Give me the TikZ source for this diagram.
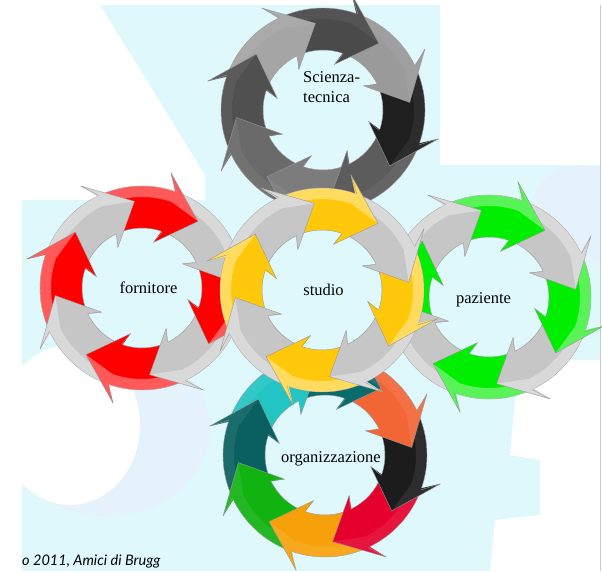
\documentclass[tikz,border=0pt]{standalone}
\usepackage{fontspec}
\setmainfont{Liberation Serif}
\newfontfamily\notefont{Lato}
\definecolor{bgcyan}{HTML}{DFF8FC}
\definecolor{bgblue}{HTML}{E6F2FB}
\definecolor{redA}{HTML}{FF0000}
\definecolor{grayA}{HTML}{C6C6C6}
\definecolor{yellowA}{HTML}{FFC80A}
\definecolor{greenA}{HTML}{00EE00}
\definecolor{sciA}{HTML}{4A4A4A}
\definecolor{sciB}{HTML}{9A9A9A}
\definecolor{sciC}{HTML}{1F1F1F}
\definecolor{sciD}{HTML}{5C5C5C}
\definecolor{sciE}{HTML}{7C7C7C}
\definecolor{sciF}{HTML}{6A6A6A}
\definecolor{sciG}{HTML}{505050}
\definecolor{sciH}{HTML}{A5A5A5}
\definecolor{orgA}{HTML}{0B6B6B}
\definecolor{orgB}{HTML}{F26535}
\definecolor{orgC}{HTML}{1C1C1C}
\definecolor{orgD}{HTML}{E6002E}
\definecolor{orgE}{HTML}{F7A10A}
\definecolor{orgF}{HTML}{11B311}
\definecolor{orgG}{HTML}{0A6060}
\definecolor{orgH}{HTML}{22C4C4}
\tikzset{
  x=1pt, y=1pt,
  piece/.style={draw=black!40, line width=0.4pt, line join=round},
  tag/.style={font=\fontsize{16.5}{20}\selectfont, inner sep=0pt},
}

% ring of eight arrows turning clockwise: #1 centre, #2 shine, #3 angle/colour
\newcommand{\cyclering}[3]{%
  \begin{scope}[shift={(#1)}]
    % bodies
    \foreach \b/\col in {#3} {
      \filldraw[piece, fill=\col]
        ({\b+45}:102) arc[start angle={\b+45}, end angle=\b, radius=102]
        -- (\b:60) arc[start angle=\b, end angle={\b+45}, radius=60] -- cycle;
      \fill[white, fill opacity=#2]
        ({\b+45}:102) arc[start angle={\b+45}, end angle=\b, radius=102]
        -- (\b:91) arc[start angle=\b, end angle={\b+45}, radius=91] -- cycle;
    }
    % heads on top of the next tail
    \foreach \b/\col in {#3} {
      \fill[\col] ({\b+1}:102) -- ({\b+6}:119) -- ({\b-20}:87) -- ({\b+6}:47)
        -- ({\b+1}:60) -- cycle;
      \fill[white, fill opacity=#2] ({\b+1}:91) -- ({\b+1}:102) -- ({\b+6}:119)
        -- ({\b-20}:87) -- cycle;
      \draw[piece] (\b:102) -- ({\b+6}:119) -- ({\b-20}:87) -- ({\b+6}:47)
        -- (\b:60);
    }
  \end{scope}
}

\begin{document}
\begin{tikzpicture}
  \useasboundingbox (0,0) rectangle (602,571);
  % background
  \fill[white] (0,0) rectangle (602,571);
  \begin{scope}
    \clip (22,0) rectangle (600,566);
    \fill[bgcyan] (22,0) rectangle (600,566);
    \fill[white] (22,566) -- (100,566) -- (205,396) -- (205,371) -- (22,371) -- cycle;
    \fill[white] (440,406) rectangle (600,566);
    \fill[bgblue] (580,356) circle[radius=50];
    \fill[white] (520,211) -- (600,211) -- (600,0) -- (490,0) -- (495,51)
      -- (540,56) -- (540,111) -- (510,116) -- (515,170) -- cycle;
    \fill[bgblue] (105,141) ellipse[x radius=105, y radius=86];
    \fill[white] (70,146) ellipse[x radius=70, y radius=80];
  \end{scope}
  \draw[black!20] (600.5,0) -- (600.5,566);

  \coordinate (sci) at (323,461);
  \coordinate (org) at (325,116);
  \coordinate (forn) at (142,283);
  \coordinate (paz) at (489,274);
  \coordinate (stud) at (322,281);

  \cyclering{sci}{0.06}{70/sciA, 25/sciB, -20/sciC, -65/sciD, -110/sciE,
    -155/sciF, 160/sciG, 115/sciH}
  \cyclering{org}{0.08}{70/orgA, 25/orgB, -20/orgC, -65/orgD, -110/orgE,
    -155/orgF, 160/orgG, 115/orgH}
  \cyclering{forn}{0.35}{70/redA, 25/grayA, -20/redA, -65/grayA, -110/redA,
    -155/grayA, 160/redA, 115/grayA}
  \cyclering{paz}{0.35}{70/greenA, 25/grayA, -20/greenA, -65/grayA, -110/greenA,
    -155/grayA, 160/greenA, 115/grayA}
  \cyclering{stud}{0.35}{70/yellowA, 25/grayA, -20/yellowA, -65/grayA, -110/yellowA,
    -155/grayA, 160/yellowA, 115/grayA}

  \node[tag, anchor=base west, align=left] (sci-label) at (303,468)
    {Scienza-\\tecnica};
  \node[tag, anchor=base] (forn-label) at (148.5,277) {fornitore};
  \node[tag, anchor=base] (stud-label) at (323.5,276) {studio};
  \node[tag, anchor=base] (paz-label) at (483.5,268) {paziente};
  \node[tag, anchor=base] (org-label) at (331,109) {organizzazione};
  \node[anchor=base west, inner sep=0pt, font=\notefont\itshape\fontsize{14.5}{16}\selectfont]
    (credit) at (22,6) {o 2011, Amici di Brugg};
\end{tikzpicture}
\end{document}
